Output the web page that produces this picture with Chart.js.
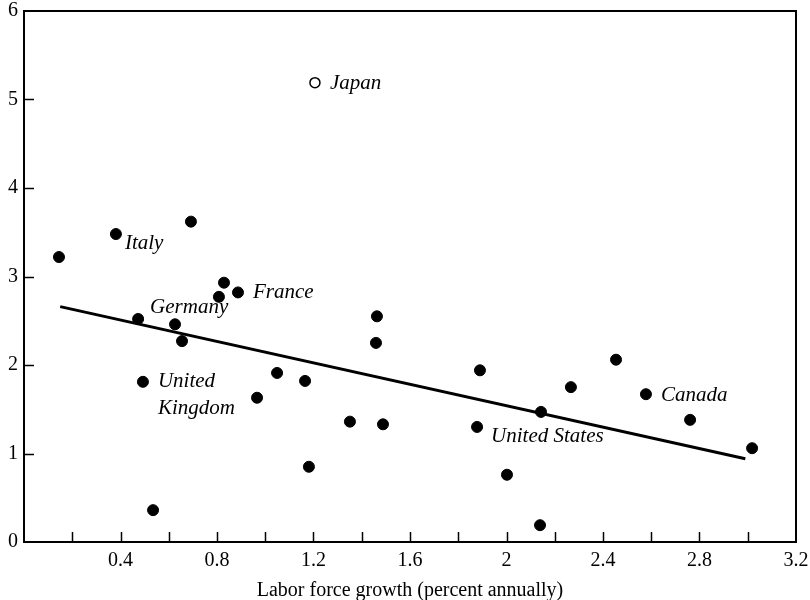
<!DOCTYPE html>
<html>
<head>
<meta charset="utf-8">
<script src="https://cdn.jsdelivr.net/npm/chart.js@4.4.1/dist/chart.umd.min.js"></script>
<style>
  html, body { margin: 0; padding: 0; background: #fff; }
  #wrap { width: 810px; height: 600px; }
</style>
</head>
<body>
<div id="wrap"><canvas id="chart"></canvas></div>
<script>
// страны (заполненные точки)
const growthX = [0.145, 0.381, 0.692, 0.829, 0.808, 0.887, 0.473, 0.626, 0.655, 0.493, 0.535,
                 1.049, 0.966, 1.165, 1.181, 1.351, 1.463, 1.488, 1.459, 1.890, 1.878, 2.002,
                 2.143, 2.139, 2.267, 2.454, 2.578, 2.761, 3.018];
const growthY = [3.22, 3.48, 3.62, 2.93, 2.77, 2.82, 2.52, 2.46, 2.27, 1.81, 0.36,
                 1.91, 1.63, 1.82, 0.85, 1.36, 2.55, 1.33, 2.25, 1.94, 1.30, 0.76,
                 1.47, 0.19, 1.75, 2.06, 1.67, 1.38, 1.06];

// Япония отдельно (пустой кружок)
const japanX = [1.206];
const japanY = [5.19];

// линия регрессии
const fitX = [0.15, 2.99];
const fitY = [2.66, 0.94];

// подписи: название страны и индекс точки
const labelNames = ["Italy", "France", "Germany", "United\nKingdom", "United States", "Canada"];
const labelIndex = [1, 5, 6, 9, 20, 26];

const serif = "'Liberation Serif', 'Times New Roman', serif";

// смещения подписей от точки, px
const labelOffsets = {
  "Italy": [9, 9],
  "France": [15, 0],
  "Germany": [12, -11],
  "United\nKingdom": [15, 0],
  "United States": [14, 10],
  "Canada": [15, 1]
};

const toXY = (xs, ys) => xs.map((v, i) => ({ x: v, y: ys[i] }));

// рамка и внутренние засечки
const framePlugin = {
  id: 'frame',
  afterDraw(chart) {
    const { ctx, chartArea: { left, top, right, bottom }, scales: { x, y } } = chart;
    ctx.save();
    ctx.strokeStyle = '#000';
    ctx.lineWidth = 2;
    ctx.strokeRect(left, top, right - left, bottom - top);
    ctx.lineWidth = 1.5;
    ctx.beginPath();
    x.ticks.forEach(t => {
      if (t.value <= x.min || t.value >= x.max) return;
      const px = Math.round(x.getPixelForValue(t.value)) + 0.5;
      ctx.moveTo(px, bottom);
      ctx.lineTo(px, bottom - 10);
    });
    y.ticks.forEach(t => {
      if (t.value <= y.min || t.value >= y.max) return;
      const py = Math.round(y.getPixelForValue(t.value)) + 0.5;
      ctx.moveTo(left, py);
      ctx.lineTo(left + 10, py);
    });
    ctx.stroke();
    ctx.restore();
  }
};

// подписи стран курсивом
const labelPlugin = {
  id: 'countryLabels',
  afterDatasetsDraw(chart) {
    const { ctx } = chart;
    const pts = chart.getDatasetMeta(0).data;
    ctx.save();
    ctx.fillStyle = '#000';
    ctx.font = "italic 21px " + serif;
    ctx.textBaseline = 'middle';
    ctx.textAlign = 'left';
    labelNames.forEach((name, i) => {
      const p = pts[labelIndex[i]];
      const off = labelOffsets[name];
      name.split("\n").forEach((line, k) => {
        ctx.fillText(line, p.x + off[0], p.y + off[1] + k * 27);
      });
    });
    const jp = chart.getDatasetMeta(1).data[0];
    ctx.fillText("Japan", jp.x + 15, jp.y + 1);
    ctx.restore();
  }
};

const ctx = document.getElementById('chart').getContext('2d');

const myChart = new Chart(ctx, {
  type: 'scatter',
  data: {
    datasets: [
      {
        label: 'countries',
        data: toXY(growthX, growthY),
        backgroundColor: '#000',
        borderColor: '#000',
        pointRadius: 5.5,
        pointHoverRadius: 5.5
      },
      {
        label: 'Japan',
        data: toXY(japanX, japanY),
        backgroundColor: '#fff',
        borderColor: '#000',
        borderWidth: 1.5,
        pointRadius: 5,
        pointHoverRadius: 5
      },
      {
        label: 'fit',
        data: toXY(fitX, fitY),
        showLine: true,
        borderColor: '#000',
        borderWidth: 3,
        pointRadius: 0,
        fill: false
      }
    ]
  },
  options: {
    responsive: true,
    maintainAspectRatio: false,
    animation: false,
    layout: { padding: { left: 2, right: 14, top: 11, bottom: 0 } },
    plugins: {
      legend: { display: false },
      tooltip: { enabled: false }
    },
    scales: {
      x: {
        type: 'linear',
        min: 0,
        max: 3.2,
        grid: { display: false, drawTicks: false },
        border: { display: false },
        afterFit: s => { s.paddingLeft = 0; s.paddingRight = 0; s.height = 58; },
        ticks: {
          stepSize: 0.2,
          autoSkip: false,
          maxRotation: 0,
          padding: 7,
          color: '#000',
          font: { family: serif, size: 20 },
          callback: v => {
            const k = Math.round(v * 10);
            return (k > 0 && k % 4 === 0) ? String(k / 10) : '';
          }
        },
        title: {
          display: true,
          text: 'Labor force growth (percent annually)',
          color: '#000',
          font: { family: serif, size: 20 },
          padding: { top: 4, bottom: -3 }
        }
      },
      y: {
        min: 0,
        max: 6,
        grid: { display: false, drawTicks: false },
        border: { display: false },
        afterFit: s => { s.paddingTop = 0; s.paddingBottom = 0; },
        ticks: {
          stepSize: 1,
          padding: 6,
          color: '#000',
          font: { family: serif, size: 20 }
        }
      }
    }
  },
  plugins: [framePlugin, labelPlugin]
});
</script>
</body>
</html>
